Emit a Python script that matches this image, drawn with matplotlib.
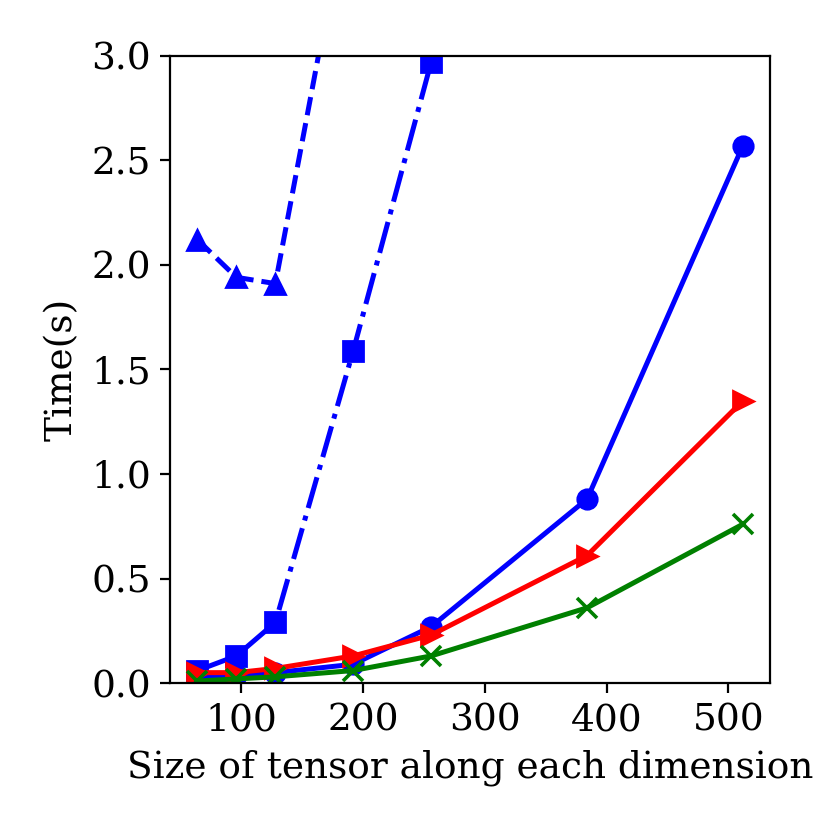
import matplotlib
matplotlib.use("Agg")
import matplotlib.pyplot as plt

plt.rcParams['font.family'] = 'DejaVu Serif'
plt.rcParams['font.size'] = 13.5

sizes = [64, 96, 128, 192, 256, 384, 512]

# timings (s)
t_tri = [2.12, 1.94, 1.91, 3.88]
t_sq = [0.06, 0.13, 0.29, 1.59, 2.97, 8.0]
t_circ = [0.03, 0.04, 0.05, 0.09, 0.27, 0.88, 2.57]
t_red = [0.05, 0.05, 0.07, 0.13, 0.23, 0.61, 1.35]
t_green = [0.01, 0.02, 0.03, 0.06, 0.13, 0.36, 0.76]

fig = plt.figure(figsize=(4.15, 4.15), dpi=200)
ax = fig.add_axes([0.205, 0.177, 0.723, 0.756])

lw = 1.8
ax.plot(sizes[:len(t_tri)], t_tri, 'b^--', lw=lw, ms=7)
ax.plot(sizes[:len(t_sq)], t_sq, 'bs-.', lw=lw, ms=7)
ax.plot(sizes, t_circ, 'bo-', lw=lw, ms=7)
ax.plot(sizes, t_red, 'r>-', lw=lw, ms=7)
ax.plot(sizes, t_green, 'gx-', lw=lw, ms=7, mew=1.3)

ax.set_xlim(64 - 0.05 * 448, 512 + 0.05 * 448)
ax.set_ylim(0, 3)
ax.set_xlabel('Size of tensor along each dimension')
ax.set_ylabel('Time(s)')

fig.savefig('out.png', dpi=200)
